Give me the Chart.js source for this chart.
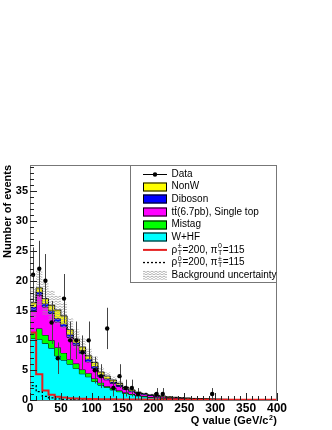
<!DOCTYPE html>
<html>
<head>
<meta charset="utf-8">
<script src="https://cdn.jsdelivr.net/npm/chart.js@4.4.1/dist/chart.umd.min.js"></script>
<style>
html, body { margin: 0; padding: 0; background: #fff; }
#wrap { width: 332px; height: 430px; position: relative; }
</style>
</head>
<body>
<div id="wrap"><canvas id="qChart"></canvas></div>
<script>
// bin edges of the Q value histogram (GeV/c^2)
const binEdges = [0, 10, 20, 30, 40, 50, 60, 70, 80, 90, 100, 110, 120, 130, 140, 150, 160, 170, 180, 190, 200,
    210, 220, 230, 240, 250, 260, 270, 280, 290, 300, 310, 320, 330, 340, 350, 360, 370, 380, 390, 400];

// background components, per bin (stacked bottom to top)
const wHF = [10.3, 10.2, 9.5, 8.7, 7.4, 6.7, 6.0, 5.3, 4.4, 3.9, 3.1, 2.5, 2.1, 1.7, 1.4, 1.1, 0.9, 0.7, 0.55, 0.45,
    0.38, 0.3, 0.25, 0.2, 0.16, 0.13, 0.11, 0.09, 0.07, 0.06, 0.05, 0.04, 0.03, 0.03, 0.02, 0.02, 0.02, 0.01, 0.01, 0.01];
const mistag = [1.0, 1.8, 1.4, 1.3, 1.4, 1.2, 0.8, 0.8, 0.7, 0.6, 0.5, 0.4, 0.2, 0.3, 0.2, 0.15, 0.1, 0.1, 0.1, 0.07,
    0.06, 0.05, 0.04, 0.04, 0.03, 0.03, 0.02, 0.02, 0.02, 0.01, 0.01, 0.01, 0.01, 0.01, 0.01, 0, 0, 0, 0, 0];
const ttbar = [3.7, 5.6, 4.7, 4.5, 4.3, 4.4, 3.7, 3.1, 2.7, 1.9, 1.7, 1.0, 1.1, 0.8, 0.7, 0.55, 0.4, 0.3, 0.25, 0.23,
    0.18, 0.17, 0.14, 0.12, 0.11, 0.09, 0.08, 0.07, 0.06, 0.05, 0.04, 0.04, 0.03, 0.03, 0.02, 0.02, 0.02, 0.01, 0.01, 0.01];
const diboson = [0.6, 0.5, 0.6, 0.5, 0.6, 0.5, 0.5, 0.4, 0.5, 0.5, 0.4, 0.3, 0.2, 0.2, 0.2, 0.15, 0.15, 0.1, 0.1, 0.07,
    0.08, 0.06, 0.05, 0.04, 0.03, 0.03, 0.02, 0.02, 0.02, 0.01, 0.01, 0.01, 0.01, 0, 0, 0, 0, 0, 0, 0];
const nonW = [0.7, 0.7, 0.8, 0.9, 1.4, 1.3, 0.8, 0.6, 0.6, 0.5, 0.6, 0.5, 0.4, 0.35, 0.3, 0.15, 0.15, 0.1, 0.1, 0.08,
    0.08, 0.07, 0.06, 0.05, 0.05, 0.04, 0.03, 0.03, 0.02, 0.02, 0.02, 0.01, 0.01, 0.01, 0.01, 0.01, 0, 0, 0, 0];
// absolute background uncertainty per bin
const bkgErr = [2.6, 3.0, 2.7, 2.5, 2.4, 2.2, 1.9, 1.6, 1.4, 1.2, 1.0, 0.8, 0.65, 0.55, 0.45, 0.35, 0.3, 0.22, 0.18, 0.15,
    0.13, 0.11, 0.09, 0.08, 0.07, 0.06, 0.05, 0.04, 0.03, 0.03, 0.02, 0.02, 0.02, 0.01, 0.01, 0.01, 0.01, 0.01, 0.01, 0.01];

// signal templates
const sigCharged = [11.3, 4.3, 1.6, 0.9, 0.55, 0.4, 0.3, 0.25, 0.2, 0.18, 0.15, 0.13, 0.12, 0.11, 0.1, 0.1, 0.09, 0.09, 0.08, 0.08,
    0.08, 0.07, 0.07, 0.07, 0.06, 0.06, 0.06, 0.06, 0.05, 0.05, 0.05, 0.05, 0.05, 0.04, 0.04, 0.04, 0.04, 0.04, 0.04, 0.03];
const sigNeutral = [2.4, 1.4, 0.6, 0.35, 0.2, 0.12, 0.08, 0.05, 0.04, 0.03, 0.03, 0.02, 0.02, 0.02, 0.02, 0.01, 0.01, 0.01, 0.01, 0.01,
    0.01, 0.01, 0.01, 0.01, 0.01, 0.01, 0.01, 0.01, 0.01, 0.01, 0.01, 0.01, 0.01, 0.01, 0.01, 0.01, 0.01, 0.01, 0.01, 0.01];

// observed events (bin centres, non-empty bins only)
const dataQ = [5, 15, 25, 35, 45, 55, 65, 75, 85, 95, 105, 115, 125, 135, 145, 155, 165, 175, 205, 215, 295];
const dataN = [21, 22, 20, 13, 7, 17, 10, 10, 8, 10, 5, 4, 12, 2, 4, 2, 2, 1, 1, 1, 1];

const xTickLabels = [0, 50, 100, 150, 200, 250, 300, 350, 400];
const yTickLabels = [0, 5, 10, 15, 20, 25, 30, 35];

// turns per-bin values into points for a stepped outline
function histPoints(vals) {
    const pts = [{x: binEdges[0], y: 0}];
    vals.forEach((v, i) => pts.push({x: binEdges[i], y: v}));
    pts.push({x: binEdges[binEdges.length - 1], y: vals[vals.length - 1]});
    pts.push({x: binEdges[binEdges.length - 1], y: 0});
    return pts;
}

function addUp(...lists) {
    return lists[0].map((_, i) => lists.reduce((s, l) => s + l[i], 0));
}

const cumWHF = wHF;
const cumMistag = addUp(wHF, mistag);
const cumTtbar = addUp(wHF, mistag, ttbar);
const cumDiboson = addUp(wHF, mistag, ttbar, diboson);
const cumNonW = addUp(wHF, mistag, ttbar, diboson, nonW);
const bandLow = cumNonW.map((v, i) => Math.max(0, v - bkgErr[i]));
const bandHigh = cumNonW.map((v, i) => v + bkgErr[i]);

const hatch = (() => {
    const c = document.createElement('canvas');
    c.width = 8; c.height = 5;
    const g = c.getContext('2d');
    g.strokeStyle = '#9a9a9a';
    g.lineWidth = 0.8;
    g.beginPath();
    g.moveTo(0, 1); g.lineTo(2, 2.5); g.lineTo(4, 1); g.lineTo(6, 2.5); g.lineTo(8, 1);
    g.moveTo(0, 3.5); g.lineTo(2, 5); g.lineTo(4, 3.5); g.lineTo(6, 5); g.lineTo(8, 3.5);
    g.stroke();
    return g.createPattern(c, 'repeat');
})();

function stackSet(vals, color, fill, order) {
    return {
        data: histPoints(vals),
        stepped: 'before',
        borderColor: '#000',
        borderWidth: 1,
        backgroundColor: color,
        fill: fill,
        pointRadius: 0,
        order: order
    };
}

const datasets = [
    stackSet(cumWHF, '#00ffff', 'origin', 9),
    stackSet(cumMistag, '#00ff00', '-1', 8),
    stackSet(cumTtbar, '#ff00ff', '-1', 7),
    stackSet(cumDiboson, '#0000ff', '-1', 6),
    stackSet(cumNonW, '#ffff00', '-1', 5),
    {data: histPoints(bandLow), stepped: 'before', borderWidth: 0, borderColor: 'transparent', pointRadius: 0, fill: false, order: 4},
    {data: histPoints(bandHigh), stepped: 'before', borderWidth: 0, borderColor: 'transparent', pointRadius: 0,
        backgroundColor: hatch, fill: '-1', order: 4},
    {data: histPoints(sigNeutral), stepped: 'before', borderColor: '#000', borderWidth: 1.3, borderDash: [2, 2],
        pointRadius: 0, fill: false, order: 2},
    {data: histPoints(sigCharged), stepped: 'before', borderColor: '#e51f1f', borderWidth: 2,
        pointRadius: 0, fill: false, order: 1},
    {data: dataQ.map((q, i) => ({x: q, y: dataN[i]})), showLine: false, pointRadius: 2.2,
        pointBackgroundColor: '#000', pointBorderColor: '#000', borderWidth: 0, order: 0, isData: true}
];

const FONT = '"Liberation Sans", Arial, sans-serif';

function richText(ctx, parts, x, y, size, bold) {
    const w = bold ? 'bold ' : '';
    let cx = x;
    parts.forEach(p => {
        if (p.t !== undefined) {
            ctx.font = w + size + 'px ' + FONT;
            ctx.fillText(p.t, cx, y);
            const tw = ctx.measureText(p.t).width;
            if (p.bar) {
                ctx.fillRect(cx + 0.5, y - size * 0.62, tw - 1, 0.8);
            }
            cx += tw;
        } else {
            ctx.font = w + Math.round(size * 0.65) + 'px ' + FONT;
            let wmax = 0;
            if (p.sup) { ctx.fillText(p.sup, cx + 0.5, y - size * 0.35); wmax = ctx.measureText(p.sup).width; }
            if (p.sub) { ctx.fillText(p.sub, cx + 0.5, y + size * 0.3); wmax = Math.max(wmax, ctx.measureText(p.sub).width); }
            cx += wmax + 1;
        }
    });
    return cx - x;
}

const decorPlugin = {
    id: 'decor',
    beforeDatasetDraw(chart, args) {
        if (!args.meta._dataset.isData) return;
        const ctx = chart.ctx, xs = chart.scales.x, ys = chart.scales.y;
        ctx.save();
        ctx.strokeStyle = '#444';
        ctx.lineWidth = 1;
        dataQ.forEach((q, i) => {
            const e = Math.sqrt(dataN[i]);
            const px = Math.round(xs.getPixelForValue(q)) + 0.5;
            ctx.beginPath();
            ctx.moveTo(px, ys.getPixelForValue(dataN[i] - e));
            ctx.lineTo(px, ys.getPixelForValue(dataN[i] + e));
            ctx.stroke();
        });
        ctx.restore();
    },
    afterDraw(chart) {
        const ctx = chart.ctx, a = chart.chartArea, xs = chart.scales.x, ys = chart.scales.y;
        ctx.save();
        // frame
        ctx.strokeStyle = '#777';
        ctx.lineWidth = 1;
        ctx.strokeRect(a.left + 0.5, a.top + 0.5, a.right - a.left - 1, a.bottom - a.top);
        // inward ticks
        ctx.strokeStyle = '#222';
        ctx.beginPath();
        for (let v = 0; v <= 400; v += 10) {
            const px = Math.round(xs.getPixelForValue(v)) + 0.5;
            const len = v % 50 === 0 ? 7 : 4;
            ctx.moveTo(px, a.bottom);
            ctx.lineTo(px, a.bottom - len);
        }
        for (let v = 0; v <= 39; v += 1) {
            const py = Math.round(ys.getPixelForValue(v)) + 0.5;
            const len = v % 5 === 0 ? 7 : 4;
            ctx.moveTo(a.left, py);
            ctx.lineTo(a.left + len, py);
        }
        ctx.stroke();

        // axis titles
        ctx.fillStyle = '#000';
        ctx.textBaseline = 'alphabetic';
        const parts = [{t: 'Q value (GeV/c'}, {sup: '2'}, {t: ')'}];
        ctx.globalAlpha = 0;
        const tw = richText(ctx, parts, 0, 0, 11, true);
        ctx.globalAlpha = 1;
        richText(ctx, parts, a.right - tw, 424, 11, true);

        ctx.save();
        ctx.translate(11, a.top);
        ctx.rotate(-Math.PI / 2);
        ctx.font = 'bold 11px ' + FONT;
        ctx.textAlign = 'right';
        ctx.fillText('Number of events', 0, 0);
        ctx.restore();

        // legend
        const lx0 = 130, ly0 = 165, lx1 = 277, ly1 = 283;
        ctx.fillStyle = '#fff';
        ctx.fillRect(lx0, ly0, lx1 - lx0, ly1 - ly0);
        ctx.strokeStyle = '#777';
        ctx.strokeRect(lx0 + 0.5, ly0 + 0.5, lx1 - lx0 - 1, ly1 - ly0 - 1);
        const sx = 143, sw = 24, tx = 171.5, step = 12.65;
        const rowY = i => 174 + step * i;
        ctx.textBaseline = 'middle';
        // Data
        ctx.strokeStyle = '#000';
        ctx.beginPath(); ctx.moveTo(sx, Math.round(rowY(0)) + 0.5); ctx.lineTo(sx + sw, Math.round(rowY(0)) + 0.5); ctx.stroke();
        ctx.fillStyle = '#000';
        ctx.beginPath(); ctx.arc(sx + sw / 2, Math.round(rowY(0)) + 0.5, 2.2, 0, Math.PI * 2); ctx.fill();
        const boxes = ['#ffff00', '#0000ff', '#ff00ff', '#00ff00', '#00ffff'];
        boxes.forEach((col, k) => {
            const y = Math.round(rowY(k + 1));
            ctx.fillStyle = col;
            ctx.fillRect(sx, y - 4.5, sw, 9);
            ctx.strokeStyle = '#000';
            ctx.strokeRect(sx + 0.5, y - 4, sw - 1, 8);
        });
        // signal lines
        ctx.strokeStyle = '#e51f1f'; ctx.lineWidth = 2;
        ctx.beginPath(); ctx.moveTo(sx, rowY(6)); ctx.lineTo(sx + sw, rowY(6)); ctx.stroke();
        ctx.strokeStyle = '#000'; ctx.lineWidth = 1.3; ctx.setLineDash([2, 2]);
        ctx.beginPath(); ctx.moveTo(sx, rowY(7)); ctx.lineTo(sx + sw, rowY(7)); ctx.stroke();
        ctx.setLineDash([]);
        ctx.fillStyle = hatch;
        ctx.fillRect(sx, rowY(8) - 4.5, sw, 9);

        ctx.fillStyle = '#000';
        ctx.font = '10px ' + FONT;
        ctx.fillText('Data', tx, rowY(0));
        ctx.fillText('NonW', tx, rowY(1));
        ctx.fillText('Diboson', tx, rowY(2));
        richText(ctx, [{t: 't'}, {t: 't', bar: true}, {t: '(6.7pb), Single top'}], tx, rowY(3) + 0.5, 10, false);
        ctx.font = '10px ' + FONT;
        ctx.fillText('Mistag', tx, rowY(4));
        ctx.fillText('W+HF', tx, rowY(5));
        richText(ctx, [{t: 'ρ'}, {sup: '±', sub: 'T'}, {t: '=200, π'}, {sup: '0', sub: 'T'}, {t: '=115'}], tx, rowY(6), 10, false);
        richText(ctx, [{t: 'ρ'}, {sup: '0', sub: 'T'}, {t: '=200, π'}, {sup: '±', sub: 'T'}, {t: '=115'}], tx, rowY(7), 10, false);
        ctx.font = '10px ' + FONT;
        ctx.fillText('Background uncertainty', tx, rowY(8));
        ctx.restore();
    }
};

new Chart(document.getElementById('qChart'), {
    type: 'line',
    data: {datasets: datasets},
    options: {
        responsive: true,
        maintainAspectRatio: false,
        animation: false,
        layout: {padding: {top: 165, right: 55, left: 0, bottom: 0}},
        plugins: {legend: {display: false}, tooltip: {enabled: false}},
        scales: {
            x: {
                type: 'linear',
                min: 0,
                max: 400,
                afterBuildTicks: s => { s.ticks = xTickLabels.map(v => ({value: v})); },
                afterFit: s => { s.height = 30; },
                grid: {display: false, drawTicks: false},
                border: {display: true, color: '#222', width: 1},
                ticks: {color: '#000', font: {family: FONT, size: 12, weight: 'bold'}, padding: 1, maxRotation: 0, autoSkip: false}
            },
            y: {
                type: 'linear',
                min: 0,
                max: 39.4,
                afterBuildTicks: s => { s.ticks = yTickLabels.map(v => ({value: v})); },
                afterFit: s => { s.width = 30; },
                grid: {display: false, drawTicks: false},
                border: {display: true, color: '#222', width: 1},
                ticks: {color: '#000', font: {family: FONT, size: 11, weight: 'bold'}, padding: 2, autoSkip: false}
            }
        }
    },
    plugins: [decorPlugin]
});
</script>
</body>
</html>
